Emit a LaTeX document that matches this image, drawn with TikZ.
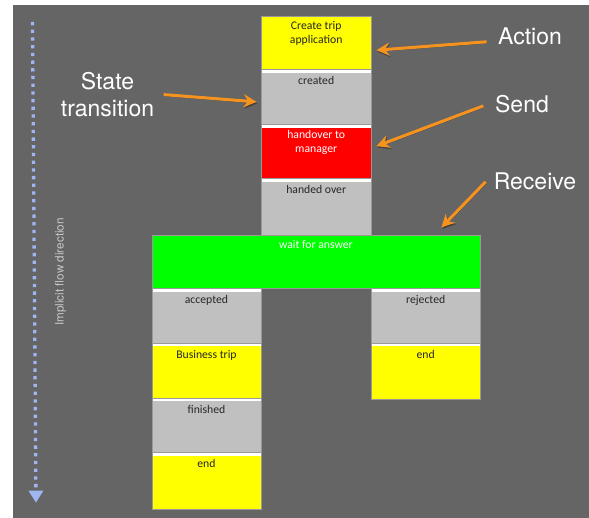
\documentclass[tikz,border=0pt]{standalone}
\usepackage{fontspec}
\setmainfont{Carlito}
\newfontfamily\heros{TeX Gyre Heros}
\usetikzlibrary{arrows.meta}
\definecolor{bggray}{RGB}{101,101,101}
\definecolor{blkgray}{RGB}{192,192,192}
\definecolor{actyellow}{RGB}{255,255,0}
\definecolor{sendred}{RGB}{255,0,0}
\definecolor{recvgreen}{RGB}{0,255,0}
\definecolor{callorange}{RGB}{246,146,30}
\definecolor{flowblue}{RGB}{160,182,242}
\definecolor{flowtext}{RGB}{200,200,200}
\tikzset{
  blk/.style={draw=black!40, line width=.4pt, inner sep=0pt, anchor=north west},
  stripe/.style={path picture={\fill[white] (path picture bounding box.north west)
      rectangle ([yshift=-3.6pt]path picture bounding box.north east);}},
  boxtxt/.style={font=\fontsize{11.7}{13.3}\selectfont, text=black!85, align=center,
      anchor=base, inner sep=0pt},
  bigtxt/.style={font=\heros\fontsize{23}{27.4}\selectfont, text=white, align=center,
      anchor=base, inner sep=0pt},
  flowlbl/.style={font=\heros\fontsize{11.7}{13}\selectfont, text=flowtext, inner sep=0pt},
  callout/.style={-{Stealth[length=13pt,width=13pt]}, line width=3pt, callorange,
      preaction={draw=black, opacity=.3, transform canvas={shift={(.8pt,-1.5pt)}}}},
  flow/.style={flowblue, line width=3.3pt, dash pattern=on 3.3pt off 4.4pt,
      -{Triangle[length=12pt,width=14pt]}}
}

\begin{document}
\begin{tikzpicture}[x=1pt, y=-1pt]

  \useasboundingbox (0,0) rectangle (589,518);
  \fill[bggray] (13,5) rectangle (589,518);

  % implicit flow
  \coordinate (flowtop) at (32.5,22);
  \coordinate (flowend) at (36,502.7);
  \draw[flow] (flowtop) -- (flowend);
  \node[flowlbl, rotate=90] (flowname) at (60.5,272) {Implicit flow direction};

  % upper column
  \node[blk, fill=actyellow, minimum width=110pt, minimum height=53pt] (create) at (261,16) {};
  \node[blk, stripe, fill=blkgray, minimum width=110pt, minimum height=55pt] (created) at (261,69) {};
  \node[blk, stripe, fill=sendred, minimum width=110pt, minimum height=54pt] (handover) at (261,124) {};
  \node[blk, stripe, fill=blkgray, minimum width=110pt, minimum height=57.5pt] (handed) at (261,178) {};

  % receive
  \node[blk, fill=recvgreen, minimum width=328.5pt, minimum height=52.8pt] (wait) at (151.5,235.5) {};

  % left branch
  \node[blk, stripe, fill=blkgray, minimum width=109.5pt, minimum height=54.4pt] (accepted) at (151.5,288.3) {};
  \node[blk, stripe, fill=actyellow, minimum width=109.5pt, minimum height=55pt] (trip) at (151.5,342.7) {};
  \node[blk, stripe, fill=blkgray, minimum width=109.5pt, minimum height=54pt] (finished) at (151.5,397.7) {};
  \node[blk, stripe, fill=actyellow, minimum width=109.5pt, minimum height=57.3pt] (endleft) at (151.5,451.7) {};

  % right branch
  \node[blk, stripe, fill=blkgray, minimum width=109pt, minimum height=54.4pt] (rejected) at (371,288.3) {};
  \node[blk, stripe, fill=actyellow, minimum width=109pt, minimum height=56.3pt] (endright) at (371,342.7) {};

  % texts (base = last line)
  \node[boxtxt] (createtxt) at ([yshift=-27.3pt]create.north) {Create trip\\application};
  \node[boxtxt] (createdtxt) at ([yshift=-15.5pt]created.north) {created};
  \node[boxtxt, text=white] (handovertxt) at ([yshift=-28.3pt]handover.north) {handover to\\manager};
  \node[boxtxt] (handedtxt) at ([yshift=-15.5pt]handed.north) {handed over};
  \node[boxtxt, text=white] (waittxt) at ([yshift=-13.5pt]wait.north) {wait for answer};
  \node[boxtxt] (acceptedtxt) at ([yshift=-15.5pt]accepted.north) {accepted};
  \node[boxtxt] (triptxt) at ([yshift=-15.5pt]trip.north) {Business trip};
  \node[boxtxt] (finishedtxt) at ([yshift=-15.5pt]finished.north) {finished};
  \node[boxtxt] (endlefttxt) at ([yshift=-15.5pt]endleft.north) {end};
  \node[boxtxt] (rejectedtxt) at ([yshift=-15.5pt]rejected.north) {rejected};
  \node[boxtxt] (endrighttxt) at ([yshift=-15.5pt]endright.north) {end};

  % legend
  \node[bigtxt] (state) at (107.5,116.7) {State\\transition};
  \node[bigtxt] (action) at (530,45) {Action};
  \node[bigtxt] (send) at (522,113) {Send};
  \node[bigtxt] (receive) at (535,190) {Receive};

  \draw[callout] ([xshift=9.4pt]state.east) -- ([shift={(-4.3pt,-5.2pt)}]created.west);
  \draw[callout] ([shift={(-11.3pt,-5pt)}]action.west) -- ([shift={(5pt,-7.5pt)}]create.east);
  \draw[callout] ([shift={(-11.7pt,-1.3pt)}]send.west) -- ([shift={(5pt,5pt)}]handover.east);
  \draw[callout] ([xshift=-8pt]receive.west) -- ([shift={(-39pt,8pt)}]wait.north east);

\end{tikzpicture}
\end{document}
